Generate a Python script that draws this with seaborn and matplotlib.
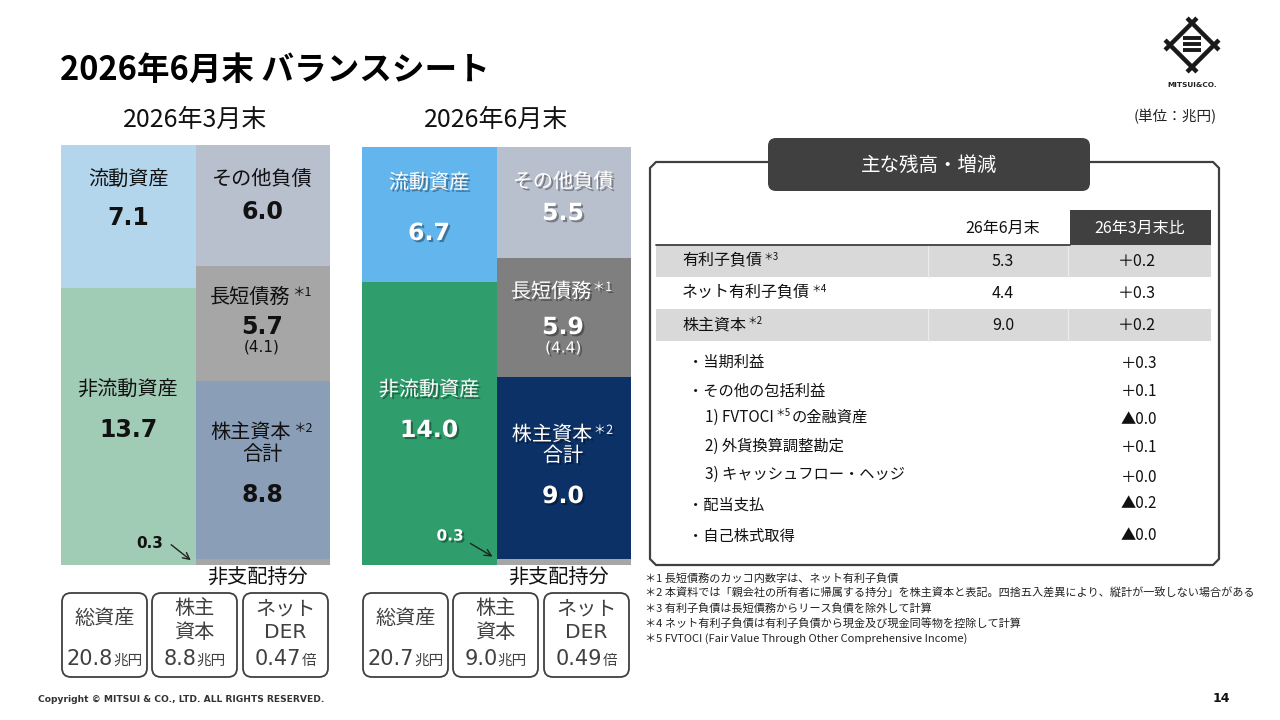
import numpy as np
import pandas as pd
import matplotlib
matplotlib.use('Agg')
import matplotlib.pyplot as plt
import matplotlib.patheffects as pe
from matplotlib.patches import FancyBboxPatch, Rectangle, Polygon
import seaborn as sns

# Balance sheet data (trillion yen)
periods = ['2026年3月末', '2026年6月末']
sides = ['資産', '負債・資本']
current_assets = [7.1, 6.7]
noncurrent_assets = [13.7, 14.0]
other_liabilities = [6.0, 5.5]
debt = [5.7, 5.9]
net_debt = [4.1, 4.4]
equity = [8.8, 9.0]
nci = [0.3, 0.3]
total_assets = [20.8, 20.7]
net_der = [0.47, 0.49]

# Table on the right
table_items = ['有利子負債', 'ネット有利子負債', '株主資本']
table_notes = ['3', '4', '2']
table_jun = [5.3, 4.4, 9.0]
table_change = [0.2, 0.3, 0.2]
sub_items = ['・当期利益', '・その他の包括利益', '1) FVTOCI', '2) 外貨換算調整勘定',
             '3) キャッシュフロー・ヘッジ', '・配当支払', '・自己株式取得']
sub_change = [0.3, 0.1, -0.0, 0.1, 0.0, -0.2, -0.0]

footnotes = [
    '＊1 長短債務のカッコ内数字は、ネット有利子負債',
    '＊2 本資料では「親会社の所有者に帰属する持分」を株主資本と表記。四捨五入差異により、縦計が一致しない場合がある',
    '＊3 有利子負債は長短債務からリース負債を除外して計算',
    '＊4 ネット有利子負債は有利子負債から現金及び現金同等物を控除して計算',
    '＊5 FVTOCI (Fair Value Through Other Comprehensive Income)',
]

# Colours: pale for March, vivid for June
palettes = [
    {'流動資産': '#B4D6EC', '非流動資産': '#A0CBB4', 'その他負債': '#B8BFCD',
     '長短債務': '#A6A6A6', '株主資本': '#8A9EB8', '非支配持分': '#A6A6A6'},
    {'流動資産': '#63B5EE', '非流動資産': '#2F9E6C', 'その他負債': '#B8BFCD',
     '長短債務': '#7F7F7F', '株主資本': '#0C3167', '非支配持分': '#A6A6A6'},
]

sns.set_theme(style='white')
JP = ['Noto Sans CJK JP', 'DejaVu Sans']
NUM = ['DejaVu Sans']
plt.rcParams['font.family'] = JP

W, H = 1280, 720
fig = plt.figure(figsize=(12.8, 7.2), dpi=100)

# long table of stacked blocks, bottom to top
rows = []
for i, p in enumerate(periods):
    for side, blocks, vals in [
        (sides[0], ['非流動資産', '流動資産'], [noncurrent_assets[i], current_assets[i]]),
        (sides[1], ['非支配持分', '株主資本', '長短債務', 'その他負債'],
         [nci[i], equity[i], debt[i], other_liabilities[i]]),
    ]:
        b = 0.0
        for blk, v in zip(blocks, vals):
            rows.append(dict(period=p, side=side, block=blk, value=v, bottom=b))
            b += v
bs = pd.DataFrame(rows)

panel_x = [61, 362]
for i, p in enumerate(periods):
    ax = fig.add_axes([panel_x[i] / W, (H - 565) / H, 269 / W, 420 / H])
    for _, r in bs[bs['period'] == p].iterrows():
        sns.barplot(x=[r['side']], y=[r['value']], order=sides, bottom=r['bottom'],
                    color=palettes[i][r['block']], width=1.0, saturation=1,
                    errorbar=None, edgecolor='none', linewidth=0, ax=ax)
    ax.set_xlim(-0.5, 1.5)
    ax.set_ylim(0, max(total_assets))
    ax.set_axis_off()

# overlay in pixel coordinates
ov = fig.add_axes([0, 0, 1, 1], zorder=5)
ov.set_xlim(0, W)
ov.set_ylim(H, 0)
ov.set_axis_off()
ov.patch.set_alpha(0)

shadow = [pe.withSimplePatchShadow(offset=(1.5, -1.5), shadow_rgbFace='black', alpha=0.35)]


def txt(x, y, s, size, color='#1a1a1a', ha='center', weight='normal', family=JP, fx=None, va='center'):
    return ov.text(x, y, s, fontsize=size, color=color, ha=ha, va=va, fontweight=weight,
                   family=family, path_effects=fx)


def sup(artist, s, size=8, color='#1a1a1a', fx=None, dy=0.72):
    return ov.annotate(s, xy=(1, dy), xycoords=artist, xytext=(1, 0), textcoords='offset points',
                       fontsize=size, va='center', ha='left', color=color, family=JP, path_effects=fx)


# title
txt(60, 70, '2026年6月末 バランスシート', 23.5, color='black', ha='left', weight='bold')

# per-panel label layout
lay = [
    dict(cur=(180, 218), oth=(179, 212), dbt=(297, 327, 347), nonc=(390, 430), eq=(433, 455, 495), nci=(150, 543, 169, 543, 193, 562)),
    dict(cur=(183, 233), oth=(182, 213), dbt=(292, 327, 348), nonc=(390, 430), eq=(435, 456, 496), nci=(450, 536, 468, 542, 495, 558)),
]
renderer = fig.canvas.get_renderer()

for i, p in enumerate(periods):
    x0 = panel_x[i]
    ca, la = x0 + 67, x0 + 201
    L = lay[i]
    col = '#111111' if i == 0 else 'white'
    fx = None if i == 0 else shadow
    txt(x0 + 134, 120, p, 18, color='#111111')

    txt(ca, L['cur'][0], '流動資産', 14.5, col, fx=fx)
    txt(ca, L['cur'][1], f'{current_assets[i]:.1f}', 17, col, weight='bold', family=NUM, fx=fx)
    txt(ca, L['nonc'][0], '非流動資産', 14.5, col, fx=fx)
    txt(ca, L['nonc'][1], f'{noncurrent_assets[i]:.1f}', 17, col, weight='bold', family=NUM, fx=fx)

    txt(la, L['oth'][0], 'その他負債', 14.5, col, fx=fx)
    txt(la, L['oth'][1], f'{other_liabilities[i]:.1f}', 17, col, weight='bold', family=NUM, fx=fx)
    t = txt(la - 12, L['dbt'][0], '長短債務', 14.5, col, fx=fx)
    sup(t, '＊1', 9, col, fx=fx)
    txt(la, L['dbt'][1], f'{debt[i]:.1f}', 17, col, weight='bold', family=NUM, fx=fx)
    txt(la, L['dbt'][2], f'({net_debt[i]:.1f})', 11, col, family=NUM, fx=fx)
    t = txt(la - 11, L['eq'][0], '株主資本', 14.5, col, fx=fx)
    sup(t, '＊2', 9, col, fx=fx)
    txt(la, L['eq'][1], '合計', 14.5, col, fx=fx)
    txt(la, L['eq'][2], f'{equity[i]:.1f}', 17, col, weight='bold', family=NUM, fx=fx)

    nx, ny, ax1, ay1, ax2, ay2 = L['nci']
    txt(nx, ny, f'{nci[i]:.1f}', 11, col, weight='bold', family=NUM, fx=fx)
    ov.annotate('', xy=(ax2, ay2), xytext=(ax1, ay1),
                arrowprops=dict(arrowstyle='->', color='#222222', lw=1.0))
    txt(la - 4, 578, '非支配持分', 14.5, '#111111')

    # summary boxes
    bx = [x0 + 1, x0 + 91, x0 + 182]
    for k in range(3):
        ov.add_patch(FancyBboxPatch((bx[k], 593), 85, 84, boxstyle='round,pad=0,rounding_size=9',
                                    fc='white', ec='#404040', lw=1.3))
    gc = '#404040'
    txt(bx[0] + 42.5, 618, '総資産', 14.5, gc)
    txt(bx[1] + 42.5, 609, '株主', 14.5, gc)
    txt(bx[1] + 42.5, 633, '資本', 14.5, gc)
    txt(bx[2] + 42.5, 609, 'ネット', 14.5, gc)
    txt(bx[2] + 42.5, 633, 'DER', 14.5, gc, family=NUM)
    for k, (num, unit) in enumerate([(f'{total_assets[i]:.1f}', '兆円'), (f'{equity[i]:.1f}', '兆円'),
                                     (f'{net_der[i]:.2f}', '倍')]):
        tn = txt(0, 665, num, 15, gc, ha='left', family=NUM, va='baseline')
        tu = txt(0, 665, unit, 10.5, gc, ha='left', va='baseline')
        wn = tn.get_window_extent(renderer).width
        wu = tu.get_window_extent(renderer).width
        start = bx[k] + 42.5 - (wn + wu) / 2
        tn.set_x(start)
        tu.set_x(start + wn)

# unit + logo
txt(1175, 117, '(単位：兆円)', 10.5, '#222222')
cx, cy, d, e = 1192, 45, 22, 7
for (px, py), (qx, qy) in [((cx, cy - d), (cx + d, cy)), ((cx + d, cy), (cx, cy + d)),
                           ((cx, cy + d), (cx - d, cy)), ((cx - d, cy), (cx, cy - d))]:
    ux, uy = (qx - px) / (d * np.sqrt(2)), (qy - py) / (d * np.sqrt(2))
    ov.plot([px - e * ux, qx + e * ux], [py - e * uy, qy + e * uy], color='#1a1a1a', lw=3.2,
            solid_capstyle='butt')
for yb in [38, 44, 50]:
    ov.plot([1183, 1201], [yb, yb], color='#1a1a1a', lw=2.8, solid_capstyle='butt')
txt(1192, 85, 'MITSUI&CO.', 5.3, '#222222', weight='bold', family=NUM)

# right table frame
c = 6
fl, ft, fr, fb = 650, 162, 1219, 565
ov.add_patch(Polygon([(fl, ft + c), (fl + c, ft), (fr - c, ft), (fr, ft + c), (fr, fb - c),
                      (fr - c, fb), (fl + c, fb), (fl, fb - c)], closed=True,
                     fc='white', ec='#404040', lw=1.6))
ov.add_patch(FancyBboxPatch((768, 138), 322, 53, boxstyle='round,pad=0,rounding_size=8',
                            fc='#404040', ec='none'))
txt(929, 165, '主な残高・増減', 14, 'white')

txt(1003, 228, '26年6月末', 11.5, '#111111')
ov.add_patch(Rectangle((1070, 210), 141, 35, fc='#404040', ec='none'))
txt(1140, 228, '26年3月末比', 11.5, 'white')

row_top = [245, 277, 309]
for k, item in enumerate(table_items):
    if k % 2 == 0:
        ov.add_patch(Rectangle((656, row_top[k]), 555, 32, fc='#D9D9D9', ec='none'))
        for xs in [928, 1068]:
            ov.plot([xs, xs], [row_top[k], row_top[k] + 32], color='#ECECEC', lw=0.8)
    yc = row_top[k] + 16
    t = txt(682, yc, item, 11.5, '#111111', ha='left')
    sup(t, '＊' + table_notes[k], 7, '#111111')
    txt(1003, yc, f'{table_jun[k]:.1f}', 11.5, '#111111')
    txt(1137, yc, f'＋{table_change[k]:.1f}', 11.5, '#111111')
ov.plot([656, 1070], [245, 245], color='#404040', lw=1.3)

lab_y = [362, 391, 417, 446, 474, 505, 537]
val_y = [363, 391, 419, 448, 477, 504, 536]
for k, item in enumerate(sub_items):
    xl = 688 if item.startswith('・') else 705
    t = txt(xl, lab_y[k], item, 11, '#111111', ha='left')
    if 'FVTOCI' in item:
        sup(t, '＊5', 7, '#111111')
        ov.annotate('の金融資産', xy=(1, 0.5), xycoords=t, xytext=(13, 0), textcoords='offset points',
                    fontsize=11, va='center', ha='left', color='#111111', family=JP)
    v = sub_change[k]
    sign = '▲' if np.signbit(v) else '＋'
    txt(1157, val_y[k], f'{sign}{abs(v):.1f}', 11, '#111111', ha='right')

for k, fn in enumerate(footnotes):
    txt(645, 578 + k * 15.2, fn, 8, '#222222', ha='left')

txt(38, 700, 'Copyright © MITSUI & CO., LTD. ALL RIGHTS RESERVED.', 6.6, '#333333', ha='left',
    weight='bold', family=NUM)
txt(1230, 698, '14', 9, '#111111', ha='right', weight='bold', family=NUM)

fig.savefig('out.png', dpi=100)
